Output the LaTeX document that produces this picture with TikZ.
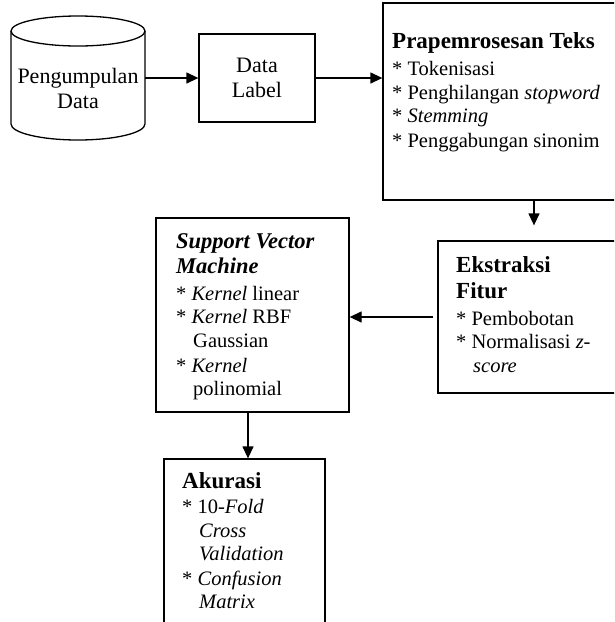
\documentclass[tikz,border=0pt]{standalone}
\usepackage{fontspec}
\setmainfont{Liberation Serif}
\usetikzlibrary{arrows.meta}
\begin{document}
\begin{tikzpicture}[x=1pt,y=-1pt,
  box/.style={draw, line width=1.3pt, rectangle, inner sep=0pt},
  arr/.style={line width=1.3pt, -{Triangle[length=12pt,width=11pt]}},
  ln/.style={anchor=base west, inner sep=0pt, font=\fontsize{20.5}{24}\selectfont},
  ttl/.style={anchor=base west, inner sep=0pt, font=\fontsize{23}{27}\selectfont\bfseries},
  ctr/.style={anchor=base, inner sep=0pt, font=\fontsize{22}{26}\selectfont}]
\useasboundingbox (0,0) rectangle (614,622);
\clip (0,0) rectangle (614,622);

% cylinder: Pengumpulan Data
\node[inner sep=0pt, minimum width=134pt, minimum height=125pt] (pd) at (78,78.5) {};
\draw[line width=1.3pt] (78,31) ellipse [x radius=67, y radius=15];
\draw[line width=1.3pt] (11,31) -- (11,124) arc[start angle=180, end angle=0, x radius=67, y radius=16] -- (145,31);
\node[ctr] (pd1) at (78,83) {Pengumpulan};
\node[ctr] (pd2) at (78,108) {Data};

% boxes
\node[box, minimum width=116pt, minimum height=88pt] (dl) at (257,78) {};
\node[box, minimum width=247pt, minimum height=197pt] (pp) at (506.5,101.5) {};
\node[box, minimum width=192pt, minimum height=152pt] (ek) at (534,317) {};
\node[box, minimum width=193pt, minimum height=194pt] (svm) at (252.5,315) {};
\node[box, minimum width=161pt, minimum height=191pt] (ak) at (244.5,554.5) {};

% Data Label
\node[ctr] (dl1) at (257,72) {Data};
\node[ctr] (dl2) at (257,97) {Label};

% Prapemrosesan Teks
\node[ttl] (pp0) at (392,48) {Prapemrosesan Teks};
\node[ln] (pp1) at (392,75) {* Tokenisasi};
\node[ln] (pp2) at (392,99) {* Penghilangan \textit{stopword}};
\node[ln] (pp3) at (392,122) {* \textit{Stemming}};
\node[ln] (pp4) at (392,147) {* Penggabungan sinonim};

% Ekstraksi Fitur
\node[ttl] (ek0) at (456,272) {Ekstraksi};
\node[ttl] (ek1) at (456,298) {Fitur};
\node[ln] (ek2) at (456,325) {* Pembobotan};
\node[ln] (ek3) at (456,348) {* Normalisasi \textit{z}-};
\node[ln] (ek4) at (473,372) {\textit{score}};

% SVM
\node[ttl, font=\fontsize{22.5}{27}\selectfont\bfseries\itshape] (sv0) at (176,248) {Support Vector};
\node[ttl, font=\fontsize{22.5}{27}\selectfont\bfseries\itshape] (sv1) at (176,273) {Machine};
\node[ln] (sv2) at (176,300) {* \textit{Kernel} linear};
\node[ln] (sv3) at (176,323) {* \textit{Kernel} RBF};
\node[ln] (sv4) at (193,347) {Gaussian};
\node[ln] (sv5) at (176,372) {* \textit{Kernel}};
\node[ln] (sv6) at (193,395) {polinomial};

% Akurasi
\node[ttl] (ak0) at (182,488) {Akurasi};
\node[ln] (ak1) at (182,513) {* 10-\textit{Fold}};
\node[ln] (ak2) at (199,537) {\textit{Cross}};
\node[ln] (ak3) at (199,560) {\textit{Validation}};
\node[ln] (ak4) at (182,585) {* \textit{Confusion}};
\node[ln] (ak5) at (199,608) {\textit{Matrix}};

% connectors
\draw[arr] (pd.east |- dl.west) -- (dl.west);
\draw[arr] (dl.east) -- (dl.east -| pp.west);
\draw[arr, shorten >=15pt] (pp.south -| ek.north) -- (ek.north);
\draw[arr, shorten <=4pt] (ek.west) -- (ek.west -| svm.east);
\draw[arr] ([xshift=-4.5pt]svm.south) -- ([xshift=3.5pt]ak.north);
\end{tikzpicture}
\end{document}
